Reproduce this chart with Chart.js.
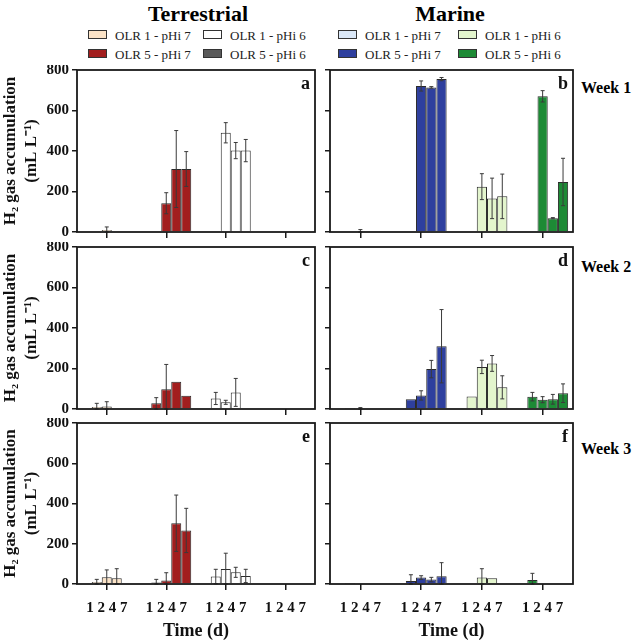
<!DOCTYPE html>
<html>
<head>
<meta charset="utf-8">
<script src="https://cdn.jsdelivr.net/npm/chart.js@4.4.1/dist/chart.umd.min.js"></script>
<style>
  body { margin: 0; background: #fff; font-family: 'Liberation Serif', serif; }
  #wrap { position: relative; width: 638px; height: 643px; overflow: hidden; }
  canvas { position: absolute; }
  .title { position: absolute; top: 0; font-size: 22px; font-weight: bold; transform: translateX(-50%); line-height: 28px; }
  .week { position: absolute; left: 581px; font-size: 16px; font-weight: bold; line-height: 16px; transform: translateY(-50%); }
  .leg { position: absolute; font-size: 13px; line-height: 14px; white-space: nowrap; color: #222; }
  .leg span { display: inline-block; width: 17px; height: 7px; border: 1px solid #333; margin-right: 8px; vertical-align: 1px; }
</style>
</head>
<body>
<div id="wrap">
  <div class="title" style="left:198px">Terrestrial</div>
  <div class="title" style="left:450px">Marine</div>
  <div class="week" style="top:88px">Week 1</div>
  <div class="week" style="top:267px">Week 2</div>
  <div class="week" style="top:449px">Week 3</div>
</div>
<script>
// groups on the x axis, days inside each group
const groups = ['OLR 1 - pHi 7', 'OLR 5 - pHi 7', 'OLR 1 - pHi 6', 'OLR 5 - pHi 6'];
const days = ['1', '2', '4', '7'];

const terrColors = ['#FBE3C7', '#A21E1E', '#FFFFFF', '#5A5A5A'];
const marColors  = ['#DAE7F7', '#2E3F9E', '#E3F5CD', '#1D8A35'];

// H2 accumulation, mL/L  -> [group][day]
const terrW1    = [[0, 10, 0, 0], [0, 142, 311, 311], [0, 490, 402, 402], [0, 0, 0, 0]];
const terrW1Err = [[0, 15, 0, 0], [0, 52, 190, 86],   [0, 50, 40, 55],    [0, 0, 0, 0]];
const terrW2    = [[10, 12, 0, 0], [28, 98, 135, 66], [52, 33, 82, 3],    [0, 0, 0, 0]];
const terrW2Err = [[18, 24, 0, 0], [28, 122, 0, 0],   [30, 10, 69, 0],    [0, 0, 0, 0]];
const terrW3    = [[10, 33, 28, 0], [7, 18, 302, 266], [37, 75, 58, 40],  [0, 0, 0, 0]];
const terrW3Err = [[13, 37, 48, 0], [16, 38, 140, 110], [36, 78, 25, 33], [0, 0, 0, 0]];

const marW1    = [[0, 2, 0, 0],  [0, 721, 714, 755], [0, 224, 166, 176], [0, 670, 68, 247]];
const marW1Err = [[0, 10, 0, 0], [0, 25, 4, 8],      [0, 64, 100, 110],  [0, 28, 3, 117]];
const marW2    = [[1, 3, 0, 0],  [48, 67, 197, 310], [62, 208, 225, 107], [61, 46, 48, 78]];
const marW2Err = [[0, 4, 0, 0],  [0, 23, 43, 181],   [0, 33, 39, 57],     [21, 15, 24, 46]];
const marW3    = [[1, 0, 0, 0],  [15, 32, 22, 38],   [0, 32, 28, 2],      [20, 0, 0, 0]];
const marW3Err = [[0, 0, 0, 0],  [31, 9, 11, 68],    [0, 44, 0, 0],       [33, 0, 0, 0]];

const yTicks = [0, 200, 400, 600, 800];

const FONT = "'Liberation Serif', 'Times New Roman', serif";
const wrap = document.getElementById('wrap');

// legends
function legend(colors, x1, x2) {
  groups.forEach((g, i) => {
    const el = document.createElement('div');
    el.className = 'leg';
    el.style.left = (i < 2 ? x1 : x2) + 'px';
    el.style.top = (i % 2 === 0 ? 29 : 48) + 'px';
    el.innerHTML = `<span style="background:${colors[i]}"></span>${g}`;
    wrap.appendChild(el);
  });
}
legend(terrColors, 88, 203);
legend(marColors, 338, 458);

const errorBars = {
  id: 'errorBars',
  afterDatasetsDraw(chart) {
    const ctx = chart.ctx, y = chart.scales.y;
    chart.data.datasets.forEach((ds, i) => {
      if (!ds.errors) return;
      chart.getDatasetMeta(i).data.forEach((bar, k) => {
        const e = ds.errors[k];
        if (!e) return;
        const v = ds.data[k];
        const top = y.getPixelForValue(v + e);
        const bot = y.getPixelForValue(Math.max(0, v - e));
        ctx.save();
        ctx.strokeStyle = '#3a3a3a';
        ctx.lineWidth = 1;
        ctx.beginPath();
        ctx.moveTo(bar.x, top); ctx.lineTo(bar.x, bot);
        ctx.moveTo(bar.x - 2, top); ctx.lineTo(bar.x + 2, top);
        ctx.moveTo(bar.x - 2, bot); ctx.lineTo(bar.x + 2, bot);
        ctx.stroke();
        ctx.restore();
      });
    });
  }
};

const frame = {
  id: 'frame',
  afterDraw(chart, args, opts) {
    const { ctx, chartArea: a } = chart;
    ctx.save();
    ctx.strokeStyle = '#1a1a1a';
    ctx.lineWidth = 1.8;
    ctx.strokeRect(a.left, a.top, a.right - a.left, a.bottom - a.top);
    ctx.fillStyle = '#111';
    ctx.font = `bold 18px ${FONT}`;
    ctx.textAlign = 'right';
    ctx.textBaseline = 'middle';
    ctx.fillText(opts.letter, a.right - 5, a.top + 14);
    ctx.restore();
  }
};

// keep chart area exactly where the axes' forced sizes put it
function noPad(s) { s.paddingTop = 0; s.paddingBottom = 0; s.paddingLeft = 0; s.paddingRight = 0; }

function panel(means, errs, colors, letter, col, row) {
  const showY = col === 0, showX = row === 2;
  const cv = document.createElement('canvas');
  const w = col === 0 ? 320 : 253;
  const h = row === 2 ? 225 : 174;
  cv.width = w; cv.height = h;
  cv.style.left = (col === 0 ? 0 : 325) + 'px';
  cv.style.top = [65, 242, 418][row] + 'px';
  wrap.appendChild(cv);

  // empty first slot keeps the day bars right of the tick, as in the original
  const datasets = [{ label: '', data: groups.map(() => null), categoryPercentage: 0.84, barPercentage: 1 }];
  days.forEach((d, j) => datasets.push({
    label: 'Day ' + d,
    data: means.map(g => g[j]),
    errors: errs.map(g => g[j]),
    backgroundColor: colors,
    borderColor: '#2a2a2a',
    borderWidth: 1,
    categoryPercentage: 0.84,
    barPercentage: 1
  }));

  new Chart(cv, {
    type: 'bar',
    data: { labels: groups, datasets },
    plugins: [errorBars, frame],
    options: {
      responsive: false,
      animation: false,
      devicePixelRatio: 1,
      layout: { padding: { top: 5, right: 5, left: 0, bottom: 0 } },
      plugins: { legend: { display: false }, tooltip: { enabled: false }, frame: { letter } },
      scales: {
        x: {
          grid: { offset: false, drawOnChartArea: false, tickLength: 6, color: '#1a1a1a', lineWidth: 1.5 },
          border: { display: false },
          ticks: { display: showX, padding: 9, color: '#111', font: { family: FONT, size: 15, weight: 'bold' }, callback: () => days.join(' ') },
          title: { display: showX, text: 'Time (d)', color: '#111', font: { family: FONT, size: 18, weight: 'bold' }, padding: { top: 0, bottom: 1 } },
          afterFit: s => { s.height = showX ? 59 : 7; noPad(s); }
        },
        y: {
          min: 0, max: 800,
          afterBuildTicks: s => { s.ticks = yTicks.map(v => ({ value: v })); },
          grid: { drawOnChartArea: false, tickLength: 5, color: '#1a1a1a', lineWidth: 1.5 },
          border: { display: false },
          ticks: { display: showY, padding: 3, color: '#111', font: { family: FONT, size: 15, weight: 'bold' } },
          title: {
            display: showY,
            text: ['H\u2082 gas accumulation', '(mL L\u207B\u00B9)'],
            color: '#111',
            font: { family: FONT, size: 17, weight: 'bold', lineHeight: 1.22 },
            padding: { top: 0, bottom: 0 }
          },
          afterFit: s => { s.width = showY ? 77 : 5; noPad(s); }
        }
      }
    }
  });
}

panel(terrW1, terrW1Err, terrColors, 'a', 0, 0);
panel(marW1, marW1Err, marColors, 'b', 1, 0);
panel(terrW2, terrW2Err, terrColors, 'c', 0, 1);
panel(marW2, marW2Err, marColors, 'd', 1, 1);
panel(terrW3, terrW3Err, terrColors, 'e', 0, 2);
panel(marW3, marW3Err, marColors, 'f', 1, 2);
</script>
</body>
</html>
